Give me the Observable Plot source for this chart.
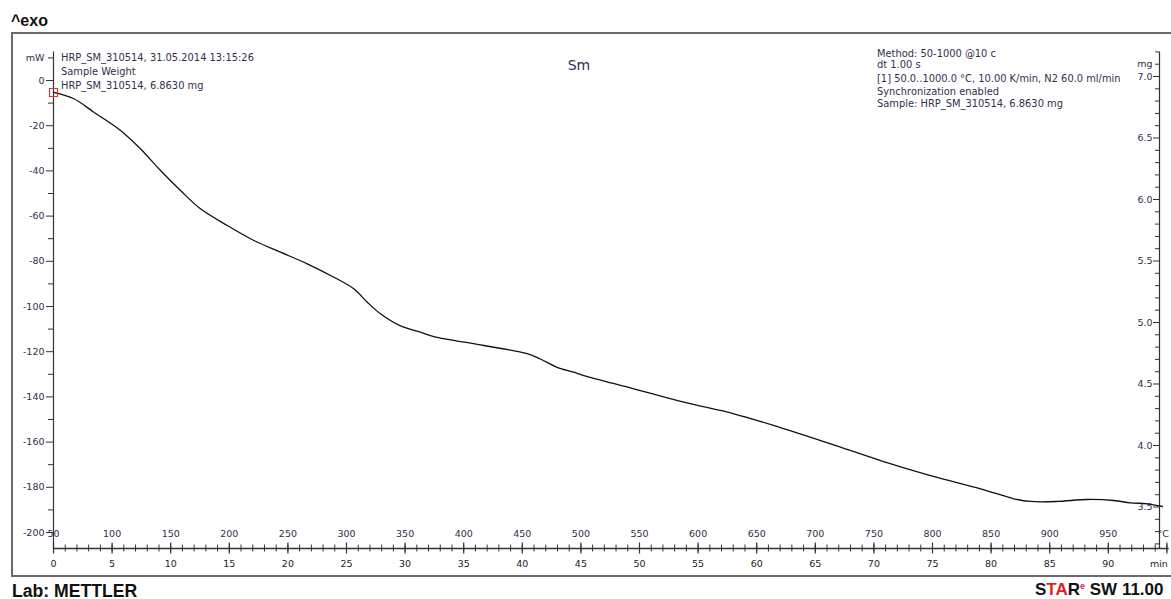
<!DOCTYPE html>
<html><head><meta charset="utf-8">
<script src="https://cdn.jsdelivr.net/npm/d3@7"></script>
<script src="https://cdn.jsdelivr.net/npm/@observablehq/plot@0.6"></script>
<style>
html,body{margin:0;padding:0;background:#fff;}
#wrap{position:relative;width:1171px;height:599px;overflow:hidden;font-family:"DejaVu Sans",sans-serif;}
.abs{position:absolute;white-space:nowrap;}
#frame{position:absolute;left:11px;top:32px;width:1175px;height:545px;border:2px solid #6a6a6a;box-sizing:border-box;}
.big{font-family:"Liberation Sans",Arial,sans-serif;font-weight:bold;color:#111;line-height:16px;}
.note{font-size:9.9px;color:#30304e;line-height:12px;}
#chart{position:absolute;left:0;top:0;}
</style></head>
<body><div id="wrap">
<div id="frame"></div>
<div id="chart"></div>
</div>
<script>
// ---- data ----
const timeMin  = [0, 1.73, 3.44, 5.72, 7.42, 9.13, 10.84, 12.54, 14.82, 17.09, 19.37, 21.65, 23.92, 25.62, 26.77, 27.90, 29.61, 31.31, 32.45, 36.72, 40.42, 41.55, 42.98, 44.39, 45.25, 49.52, 53.78, 58.05, 62.03, 66.30, 70.56, 74.83, 79.10, 81.94, 83.36, 85.64, 88.20, 90.47, 91.89, 93.32, 94.62];
const weightMg = [6.87, 6.819, 6.710, 6.561, 6.412, 6.236, 6.073, 5.924, 5.789, 5.667, 5.572, 5.477, 5.368, 5.274, 5.165, 5.071, 4.972, 4.921, 4.886, 4.813, 4.746, 4.703, 4.636, 4.596, 4.569, 4.461, 4.352, 4.258, 4.146, 4.014, 3.878, 3.756, 3.648, 3.567, 3.545, 3.545, 3.561, 3.553, 3.534, 3.526, 3.504];

const mwMajor = [0, -20, -40, -60, -80, -100, -120, -140, -160, -180, -200];
const mwMinor = [10, -10, -30, -50, -70, -90, -110, -130, -150, -170, -190];
const mwUnitAt = 10;
const mgMajor = [7.0, 6.5, 6.0, 5.5, 5.0, 4.5, 4.0, 3.5];
const mgMinor = [7.2, 7.1, 6.9, 6.8, 6.7, 6.6, 6.4, 6.3, 6.2, 6.1, 5.9, 5.8, 5.7, 5.6, 5.4, 5.3, 5.2, 5.1, 4.9, 4.8, 4.7, 4.6, 4.4, 4.3, 4.2, 4.1, 3.9, 3.8, 3.7, 3.6, 3.4, 3.3, 3.2];
const mgUnitAt = 7.1;
const minuteTicks = [0, 5, 10, 15, 20, 25, 30, 35, 40, 45, 50, 55, 60, 65, 70, 75, 80, 85, 90];
const tempTicks = [50, 100, 150, 200, 250, 300, 350, 400, 450, 500, 550, 600, 650, 700, 750, 800, 850, 900, 950];
const heatingRate = 10, startTemp = 50;

const metaLeft = ["HRP_SM_310514, 31.05.2014 13:15:26", "Sample Weight", "HRP_SM_310514, 6.8630 mg"];
const metaRight = ["Method: 50-1000 @10 c", "dt 1.00 s", "[1] 50.0..1000.0 °C, 10.00 K/min, N2 60.0 ml/min", "Synchronization enabled", "Sample: HRP_SM_310514, 6.8630 mg"];
const curveName = "Sm";

// ---- layout ----
const W = 1171, H = 599;
const axisLeftPx = 53, axisRightPx = 1159, axisTopPx = 51.4, axisBottomPx = 548;
const pxPerMin = 11.72, pxPerMg = 123, pxPerMW = 2.26, mwZeroPx = 80;
const mgTop = 7.2;
const mgBot = mgTop - (axisBottomPx - axisTopPx) / pxPerMg;
const tRight = (axisRightPx - axisLeftPx) / pxPerMin;
const mwToMg = v => mgTop - ((mwZeroPx - pxPerMW * v) - axisTopPx) / pxPerMg;

const data = timeMin.map((t, i) => ({t, mg: weightMg[i]}));
const ink = "#2e2e48", axisInk = "#333";
const minuteAll = d3.range(0, 96, 1);

const plot = Plot.plot({
  width: W, height: H,
  marginLeft: axisLeftPx, marginRight: W - axisRightPx,
  marginTop: axisTopPx, marginBottom: H - axisBottomPx,
  x: {domain: [0, tRight], axis: null},
  y: {domain: [mgBot, mgTop], axis: null},
  style: {background: "transparent", fontFamily: "DejaVu Sans", fontSize: "9.5px", color: ink, overflow: "visible"},
  marks: [
    // axis lines
    Plot.ruleX([0], {stroke: axisInk, strokeWidth: 1.2}),
    Plot.ruleX([tRight], {stroke: axisInk, strokeWidth: 1.2}),
    Plot.ruleY([mgBot], {x1: 0, x2: 95.2, stroke: axisInk, strokeWidth: 1.4}),
    // left mW axis
    Plot.ruleY(mwMajor, {y: mwToMg, x1: 0, x2: 0, insetLeft: -7, stroke: axisInk}),
    Plot.ruleY(mwMinor, {y: mwToMg, x1: 0, x2: 0, insetLeft: -5, stroke: axisInk}),
    Plot.text(mwMajor, {y: mwToMg, x: 0, text: d => String(d), textAnchor: "end", dx: -9, fill: ink}),
    Plot.text([mwUnitAt], {y: mwToMg, x: 0, text: () => "mW", textAnchor: "end", dx: -9, fill: ink}),
    // right mg axis
    Plot.ruleY(mgMajor, {y: d => d, x1: tRight, x2: tRight, insetLeft: -6, stroke: axisInk}),
    Plot.ruleY(mgMinor, {y: d => d, x1: tRight, x2: tRight, insetLeft: -4, stroke: axisInk}),
    Plot.text(mgMajor, {y: d => d, x: tRight, text: d => d.toFixed(1), textAnchor: "end", dx: -7, fill: ink}),
    Plot.text([mgUnitAt], {y: d => d, x: tRight, text: () => "mg", textAnchor: "end", dx: -7, fill: ink}),
    // bottom time / temperature axis
    Plot.ruleX(minuteAll, {x: d => d, y1: mgBot, y2: mgBot, insetTop: -3.5, insetBottom: -3.5, stroke: axisInk}),
    Plot.ruleX(minuteTicks.concat([95]), {x: d => d, y1: mgBot, y2: mgBot, insetTop: -5.5, insetBottom: -5.5, stroke: axisInk, strokeWidth: 1.2}),
    Plot.text(minuteTicks, {x: d => d, y: mgBot, dy: 15.5, text: d => String(d), fill: "#222"}),
    Plot.text([95], {x: d => d, y: mgBot, dy: 15.5, text: () => "min", textAnchor: "end", dx: 1, fill: "#222"}),
    Plot.text(tempTicks, {x: T => (T - startTemp) / heatingRate, y: mgBot, dy: -14.5, text: d => String(d), fill: ink}),
    Plot.text([95], {x: d => d, y: mgBot, dy: -14.5, text: () => "°C", textAnchor: "end", dx: 2, fill: ink}),
    // curve
    Plot.line(data, {x: "t", y: "mg", stroke: "#111", strokeWidth: 1.3, curve: "catmull-rom"}),
    Plot.dot([data[0]], {x: "t", y: "mg", symbol: "square", r: 4.5, stroke: "#e53030", fill: "none", strokeWidth: 1.1})
  ]
});
document.getElementById("chart").appendChild(plot);

// ---- text overlays ----
const wrap = document.getElementById("wrap");
function addText(txt, cls, left, centerY, extra) {
  const el = document.createElement("div");
  el.className = "abs " + cls;
  el.style.left = left + "px";
  el.style.top = (centerY - (cls.includes("big") ? 8 : 6)) + "px";
  if (extra) Object.assign(el.style, extra);
  el.innerHTML = txt;
  wrap.appendChild(el);
  return el;
}
addText("^exo", "big", 11, 20.5, {fontSize: "16px"});
const leftY = [57.7, 71.8, 86];
metaLeft.forEach((s, i) => addText(s, "note", 61, leftY[i]));
const rightY = [53.5, 64.8, 79, 91.5, 103.5];
metaRight.forEach((s, i) => addText(s, "note", 877, rightY[i]));
addText(curveName, "note", 579, 65, {fontSize: "14px", lineHeight: "16px", transform: "translate(-50%,-2px)"});
addText("Lab: METTLER", "big", 12, 590.5, {fontSize: "17.6px"});
addText('S<span style="color:#e31e24">TA</span>R<sup style="color:#e31e24;font-size:9px;vertical-align:6px;line-height:0">e</sup> SW 11.00', "big", 1035, 589.5, {fontSize: "17px"});
</script>
</body></html>
